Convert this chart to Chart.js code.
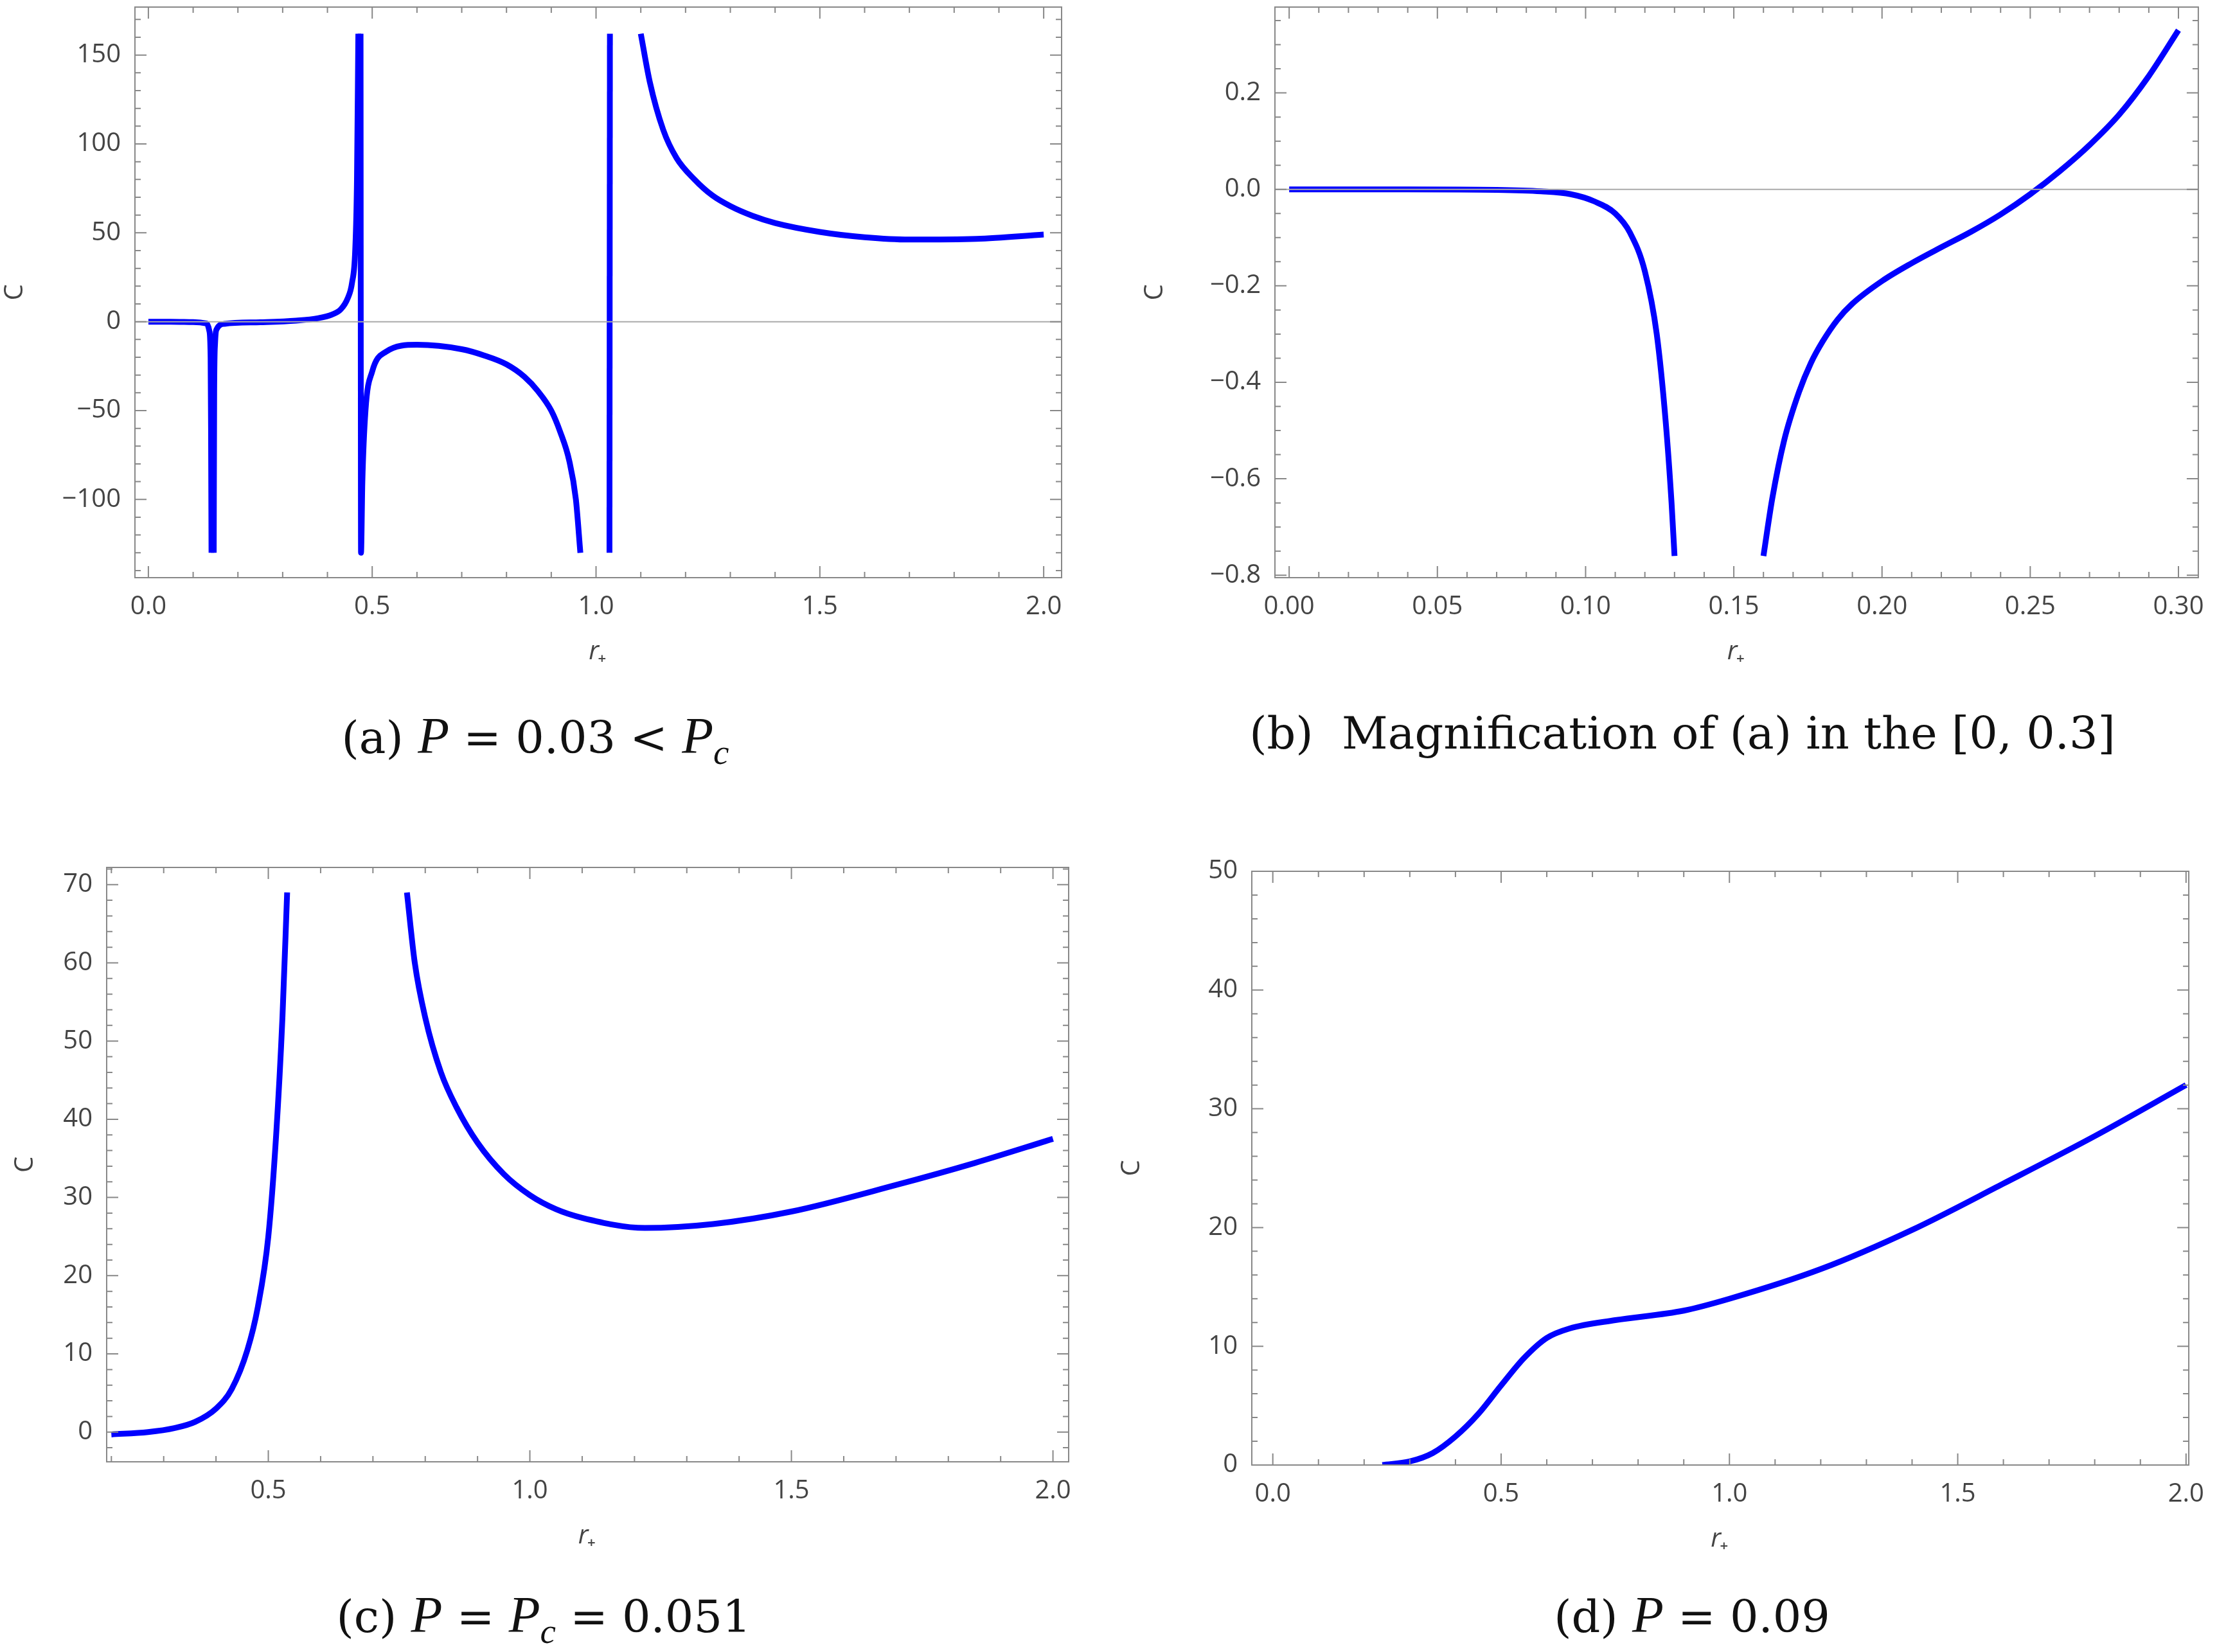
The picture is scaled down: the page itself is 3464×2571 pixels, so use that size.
<!DOCTYPE html>
<html>
<head>
<meta charset="utf-8">
<script src="https://cdn.jsdelivr.net/npm/chart.js@4.4.1/dist/chart.umd.min.js"></script>
<style>
  body { margin: 0; background: #fff; width: 3464px; height: 2571px; position: relative; overflow: hidden; }
  .box { position: absolute; }
  .cap { position: absolute; font-family: "DejaVu Serif", "Liberation Serif", serif; font-size: 70px; color: #111; transform: translateX(-50%); white-space: nowrap; }
  .cap i { font-family: "Liberation Serif", serif; font-size: 80px; }
</style>
</head>
<body>
<div class="box" id="ba" style="left:0;top:-27px;width:1672px;height:1066px"><canvas id="ca"></canvas></div>
<div class="box" id="bb" style="left:1774px;top:-27px;width:1670px;height:1066px"><canvas id="cb"></canvas></div>
<div class="box" id="bc" style="left:16px;top:1312px;width:1667px;height:1103px"><canvas id="cc"></canvas></div>
<div class="box" id="bd" style="left:1738px;top:1318px;width:1706px;height:1102px"><canvas id="cd"></canvas></div>
<div class="cap" style="left:833px;top:1100px">(a) <i>P</i> = 0.03 &lt; <i>P<sub style="font-size:55px">c</sub></i></div>
<div class="cap" style="left:2618px;top:1100px">(b)&nbsp; Magnification of (a) in the [0, 0.3]</div>
<div class="cap" style="left:846px;top:2468px">(c) <i>P</i> = <i>P<sub style="font-size:55px">c</sub></i> = 0.051</div>
<div class="cap" style="left:2633px;top:2468px">(d) <i>P</i> = 0.09</div>
<script>
// panel (a) branches
const aB1 = [[0,0],[0.05,0],[0.1,-0.2],[0.13,-1],[0.136,-5],[0.139,-20],[0.14,-60],[0.141,-130]];
const aB2 = [[0.146,-130],[0.147,-40],[0.149,-12],[0.153,-4],[0.17,-1.2],[0.25,-0.3],[0.33,0.6],[0.38,2],[0.41,4],[0.43,7],[0.445,13],[0.455,22],[0.462,40],[0.466,80],[0.469,162]];
const aB3 = [[0.474,162],[0.475,-130],[0.478,-90],[0.485,-50],[0.5,-28],[0.53,-17],[0.6,-13],[0.7,-15.5],[0.75,-19],[0.8,-24],[0.84,-31],[0.87,-39],[0.9,-50],[0.92,-62],[0.94,-78],[0.955,-100],[0.965,-130]];
const aB4 = [[1.03,-130],[1.031,162]];
const aB5 = [[1.1,162],[1.12,135],[1.15,108],[1.18,92],[1.22,80],[1.26,71],[1.3,65],[1.35,59.5],[1.4,55.5],[1.5,50.5],[1.6,47.5],[1.7,46.2],[1.85,46.6],[2.0,49]];
// panel (b)
const bB1 = [[0,0],[0.04,0],[0.07,-0.001],[0.085,-0.004],[0.095,-0.01],[0.103,-0.025],[0.11,-0.05],[0.115,-0.09],[0.12,-0.17],[0.124,-0.3],[0.127,-0.48],[0.129,-0.65],[0.13,-0.76]];
const bB2 = [[0.16,-0.76],[0.163,-0.64],[0.167,-0.52],[0.172,-0.42],[0.176,-0.36],[0.18,-0.315],[0.185,-0.27],[0.19,-0.237],[0.2,-0.19],[0.21,-0.153],[0.22,-0.12],[0.23,-0.088],[0.24,-0.052],[0.25,-0.01],[0.26,0.038],[0.27,0.092],[0.28,0.155],[0.29,0.235],[0.3,0.33]];
// panel (c)
const cB1 = [[0.2,-0.3],[0.27,0],[0.32,0.5],[0.36,1.3],[0.4,3],[0.43,5.5],[0.46,10.5],[0.48,16],[0.5,25],[0.515,38],[0.527,53],[0.536,69]];
const cB2 = [[0.765,69],[0.78,60],[0.8,53],[0.83,46],[0.86,41.5],[0.9,37],[0.95,33],[1.0,30.3],[1.05,28.5],[1.1,27.4],[1.22,26.1],[1.35,26.6],[1.5,28.2],[1.7,31.6],[1.85,34.4],[2.0,37.5]];
// panel (d)
const dB1 = [[0.24,0],[0.3,0.3],[0.35,1],[0.4,2.4],[0.45,4.3],[0.5,6.7],[0.55,9],[0.6,10.7],[0.65,11.5],[0.75,12.2],[0.9,13],[1.0,14],[1.2,16.5],[1.4,19.8],[1.6,23.7],[1.8,27.7],[2.0,32]];

const aXTicks = [0, 0.5, 1.0, 1.5, 2.0], aYTicks = [-100, -50, 0, 50, 100, 150];
const bXTicks = [0, 0.05, 0.1, 0.15, 0.2, 0.25, 0.3], bYTicks = [-0.8, -0.6, -0.4, -0.2, 0, 0.2];
const cXTicks = [0.5, 1.0, 1.5, 2.0], cYTicks = [0, 10, 20, 30, 40, 50, 60, 70];
const dXTicks = [0, 0.5, 1.0, 1.5, 2.0], dYTicks = [0, 10, 20, 30, 40, 50];

const fmtNeg = s => s.replace('-', '\u2212');

// frame with inward major/minor ticks on all sides, plus zero line
const framePlugin = {
  id: 'frame',
  afterDraw(chart, args, o) {
    const { ctx, chartArea: a, scales: { x, y } } = chart;
    ctx.save();
    ctx.strokeStyle = '#888';
    ctx.lineWidth = 2;
    if (o.zero) {
      const yz = y.getPixelForValue(0);
      ctx.strokeStyle = '#aaa';
      ctx.beginPath(); ctx.moveTo(a.left, yz); ctx.lineTo(a.right, yz); ctx.stroke();
      ctx.strokeStyle = '#888';
    }
    ctx.strokeRect(a.left, a.top, a.right - a.left, a.bottom - a.top);
    const mark = (axis, step, len, n) => {
      const lo = axis.min, hi = axis.max;
      for (let k = Math.ceil(lo / step - 1e-9); k * step <= hi + 1e-9; k++) {
        const v = k * step;
        const major = Math.abs(v / o[n + 'Major'] - Math.round(v / o[n + 'Major'])) < 1e-6;
        const L = major ? len * 2 : len;
        const p = axis.getPixelForValue(v);
        ctx.beginPath();
        if (n === 'x') {
          ctx.moveTo(p, a.bottom); ctx.lineTo(p, a.bottom - L);
          ctx.moveTo(p, a.top); ctx.lineTo(p, a.top + L);
        } else {
          ctx.moveTo(a.left, p); ctx.lineTo(a.left + L, p);
          ctx.moveTo(a.right, p); ctx.lineTo(a.right - L, p);
        }
        ctx.stroke();
      }
    };
    mark(x, o.xMinor, 9, 'x');
    mark(y, o.yMinor, 9, 'y');
    ctx.restore();
  }
};

function panel(id, branches, xr, yr, xt, yt, xd, yd, frame, yw) {
  new Chart(document.getElementById(id), {
    type: 'line',
    data: {
      datasets: branches.map(b => ({
        data: b.map(p => ({ x: p[0], y: p[1] })),
        borderColor: '#0000ff', borderWidth: 9, pointRadius: 0,
        cubicInterpolationMode: 'monotone', fill: false
      }))
    },
    options: {
      responsive: true, maintainAspectRatio: false, animation: false,
      layout: { padding: { top: 11, right: 20 } },
      plugins: { legend: { display: false }, tooltip: { enabled: false }, frame: frame },
      scales: {
        x: {
          type: 'linear', min: xr[0], max: xr[1],
          grid: { display: false }, border: { display: false },
          afterBuildTicks: s => { s.ticks = xt.map(v => ({ value: v })); },
          afterFit: s => { s.height = 140; },
          ticks: { color: '#444', font: { size: 40, family: 'Open Sans' }, padding: 14, maxRotation: 0,
                   callback: v => fmtNeg(v.toFixed(xd)) },
          title: { display: true, text: 'r\u208A', color: '#444', font: { size: 40, family: 'Open Sans', style: 'italic' }, padding: 0 }
        },
        y: {
          type: 'linear', min: yr[0], max: yr[1],
          grid: { display: false }, border: { display: false },
          afterBuildTicks: s => { s.ticks = yt.map(v => ({ value: v })); },
          afterFit: s => { s.width = yw; },
          ticks: { color: '#444', font: { size: 40, family: 'Open Sans' }, padding: 14,
                   callback: v => fmtNeg(v.toFixed(yd)) },
          title: { display: true, text: 'C', color: '#444', font: { size: 40, family: 'Open Sans' }, padding: 0 }
        }
      }
    },
    plugins: [framePlugin]
  });
}

panel('ca', [aB1, aB2, aB3, aB4, aB5], [-0.03, 2.04], [-144, 177], aXTicks, aYTicks, 1, 0,
      { zero: true, xMinor: 0.1, xMajor: 0.5, yMinor: 10, yMajor: 50 }, 210);
panel('cb', [bB1, bB2], [-0.0048, 0.3067], [-0.805, 0.378], bXTicks, bYTicks, 2, 1,
      { zero: true, xMinor: 0.01, xMajor: 0.05, yMinor: 0.05, yMajor: 0.2 }, 210);
panel('cc', [cB1, cB2], [0.191, 2.03], [-3.8, 72.2], cXTicks, cYTicks, 1, 0,
      { zero: false, xMinor: 0.1, xMajor: 0.5, yMinor: 2, yMajor: 10 }, 150);
panel('cd', [dB1], [-0.046, 2.006], [0, 50], dXTicks, dYTicks, 1, 0,
      { zero: false, xMinor: 0.1, xMajor: 0.5, yMinor: 2, yMajor: 10 }, 210);
</script>
</body>
</html>
